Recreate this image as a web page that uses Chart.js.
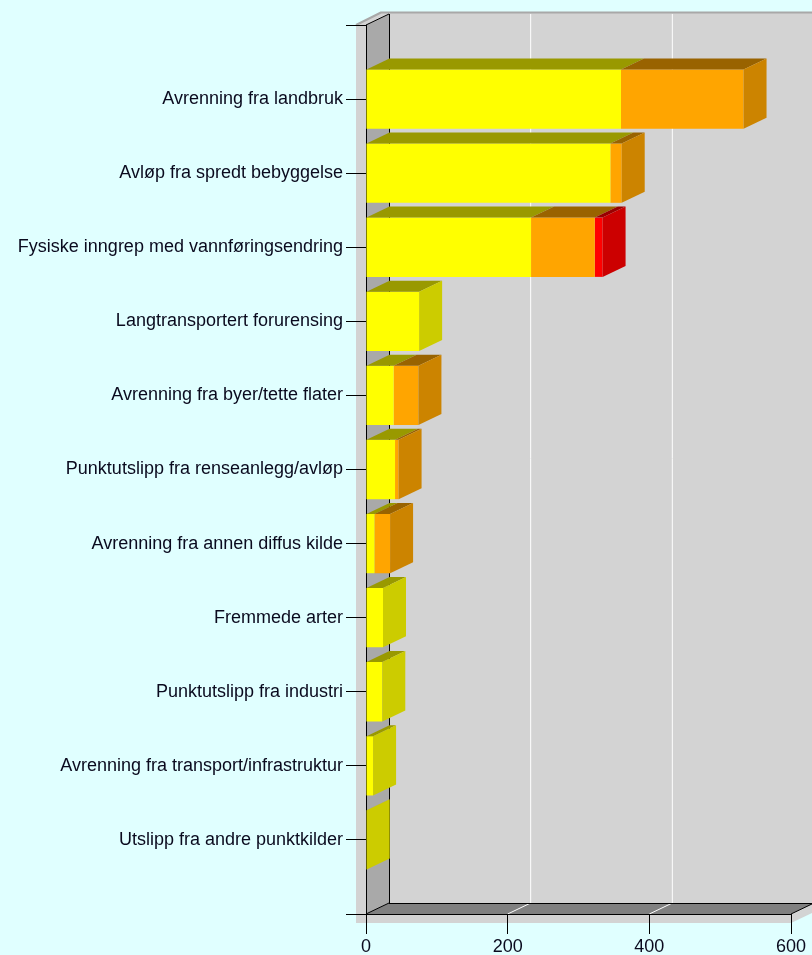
<!DOCTYPE html>
<html>
<head>
<meta charset="utf-8">
<script src="https://cdn.jsdelivr.net/npm/chart.js@4.4.0/dist/chart.umd.min.js"></script>
<style>
  html, body { margin: 0; padding: 0; background: #e0ffff; }
  #mygraph { display: block; }
</style>
</head>
<body>
<canvas id="mygraph" width="812" height="955"></canvas>
<script>
// Categories, top to bottom
const categories = [
  'Avrenning fra landbruk',
  'Avløp fra spredt bebyggelse',
  'Fysiske inngrep med vannføringsendring',
  'Langtransportert forurensing',
  'Avrenning fra byer/tette flater',
  'Punktutslipp fra renseanlegg/avløp',
  'Avrenning fra annen diffus kilde',
  'Fremmede arter',
  'Punktutslipp fra industri',
  'Avrenning fra transport/infrastruktur',
  'Utslipp fra andre punktkilder'
];
// Stacked series values (yellow, orange, red)
const yellow_values = [360, 345, 233, 75, 39, 41, 12, 24, 23, 10, 1];
const orange_values = [173, 16, 90, 0, 35, 5, 22, 0, 0, 0, 0];
const red_values    = [0, 0, 11, 0, 0, 0, 0, 0, 0, 0, 0];
// x axis range and step
const x_min = 0, x_max = 600, x_step = 200;

// styles
const front_colors = ['#ffff00', '#ffa500', '#ff0000'];
const top_colors   = ['#999900', '#996300', '#990000'];
const side_colors  = ['#cccc00', '#cc8400', '#cc0000'];
const text_color = '#0a0a1e';
const depth_x = 23, depth_y = 11;

Chart.defaults.font.family = "'Liberation Sans', Arial, sans-serif";
Chart.defaults.font.size = 18;
Chart.defaults.color = text_color;

function poly(ctx, pts, fill){
  ctx.beginPath();
  ctx.moveTo(pts[0][0], pts[0][1]);
  for (let i = 1; i < pts.length; i++) ctx.lineTo(pts[i][0], pts[i][1]);
  ctx.closePath();
  ctx.fillStyle = fill;
  ctx.fill();
}
function line(ctx, x0, y0, x1, y1, color, w){
  ctx.beginPath();
  ctx.moveTo(x0, y0);
  ctx.lineTo(x1, y1);
  ctx.strokeStyle = color;
  ctx.lineWidth = w || 1;
  ctx.stroke();
}

// Draws the 3D box (walls, floor, grid) and the top/side faces of the bars
const box3d = {
  id: 'box3d',
  beforeDraw(chart){
    const ctx = chart.ctx;
    const a = chart.chartArea;
    const xs = chart.scales.x;
    const W = chart.width;
    const L = a.left, T = a.top, R = a.right, B = a.bottom;
    ctx.save();
    // shadow / back panel
    poly(ctx, [[L - 10, T], [L + depth_x - 8, T - depth_y - 1.5], [W, T - depth_y - 1.5],
               [W, B + 9 - depth_y + (R + depth_x - W) * 0.5], [R, B + 9], [L - 10, B + 9]], '#d3d3d3');
    ctx.lineJoin = 'round';
    ctx.beginPath();
    ctx.moveTo(L - 10, T);
    ctx.lineTo(L + depth_x - 8, T - depth_y - 1.5);
    ctx.lineTo(W, T - depth_y - 1.5);
    ctx.strokeStyle = '#a8a8a8';
    ctx.lineWidth = 2;
    ctx.stroke();
    // left wall
    poly(ctx, [[L, T], [L + depth_x, T - depth_y], [L + depth_x, B - depth_y], [L, B]], '#a9a9a9');
    // floor
    poly(ctx, [[L, B], [L + depth_x, B - depth_y], [R + depth_x, B - depth_y], [R, B]], '#808080');
    // grid lines on back wall and floor
    xs.ticks.forEach(t => {
      if (t.value <= x_min) return;
      const px = xs.getPixelForValue(t.value);
      line(ctx, px + depth_x, T - depth_y, px + depth_x, B - depth_y, '#ffffff', 1);
      if (t.value < x_max) line(ctx, px, B, px + depth_x, B - depth_y, '#ffffff', 1);
    });
    // black edges
    line(ctx, L + depth_x + 0.5, T - depth_y, L + depth_x + 0.5, B - depth_y, '#000', 1);
    line(ctx, L, T, L + depth_x, T - depth_y, '#000', 1);
    line(ctx, L, B, L + depth_x, B - depth_y, '#000', 1);
    line(ctx, L + depth_x, B - depth_y + 0.5, R + depth_x, B - depth_y + 0.5, '#000', 1);
    line(ctx, R, B, R + depth_x, B - depth_y, '#000', 1);
    ctx.restore();
  },
  afterDatasetsDraw(chart){
    const ctx = chart.ctx;
    ctx.save();
    for (let i = 0; i < categories.length; i++) {
      let last = -1;
      chart.data.datasets.forEach((ds, d) => { if (ds.data[i].x > 0) last = d; });
      chart.data.datasets.forEach((ds, d) => {
        if (!(ds.data[i].x > 0)) return;
        const bar = chart.getDatasetMeta(d).data[i];
        const p = bar.getProps(['x', 'y', 'base', 'height'], true);
        const top = p.y - p.height / 2, bot = p.y + p.height / 2;
        const x0 = Math.min(p.base, p.x), x1 = Math.max(p.base, p.x);
        poly(ctx, [[x0, top], [x1, top], [x1 + depth_x, top - depth_y], [x0 + depth_x, top - depth_y]], top_colors[d]);
        if (d === last) {
          poly(ctx, [[x1, top], [x1 + depth_x, top - depth_y], [x1 + depth_x, bot - depth_y], [x1, bot]], side_colors[d]);
        }
      });
    }
    ctx.restore();
  }
};

const series = [yellow_values, orange_values, red_values];
const graph = document.getElementById('mygraph');
new Chart(graph, {
  type: 'bar',
  data: {
    datasets: series.map((vals, d) => ({
      data: vals.map((v, i) => ({ x: v, y: i })),
      backgroundColor: front_colors[d],
      borderWidth: 0,
      stack: 'one',
      categoryPercentage: 0.8,
      barPercentage: 1
    }))
  },
  options: {
    indexAxis: 'y',
    responsive: false,
    animation: false,
    events: [],
    layout: { padding: { top: 25, right: 21, bottom: 0, left: 0 } },
    plugins: { legend: { display: false }, tooltip: { enabled: false }, title: { display: false } },
    scales: {
      x: {
        type: 'linear',
        stacked: true,
        min: x_min,
        max: x_max,
        ticks: { stepSize: x_step, padding: 2, maxRotation: 0 },
        grid: { drawOnChartArea: false, drawTicks: true, tickLength: 20, color: '#000' },
        border: { color: '#000' },
        afterFit: s => { s.height = 41; }
      },
      y: {
        type: 'linear',
        reverse: true,
        offset: false,
        min: -1,
        max: categories.length,
        ticks: {
          stepSize: 1,
          padding: 3,
          autoSkip: false,
          callback: v => (categories[v] !== undefined ? categories[v] : '')
        },
        grid: { offset: false, drawOnChartArea: false, drawTicks: true, tickLength: 20, color: '#000' },
        border: { color: '#000' },
        afterFit: s => { s.width = 366; }
      }
    }
  },
  plugins: [box3d]
});
</script>
</body>
</html>
